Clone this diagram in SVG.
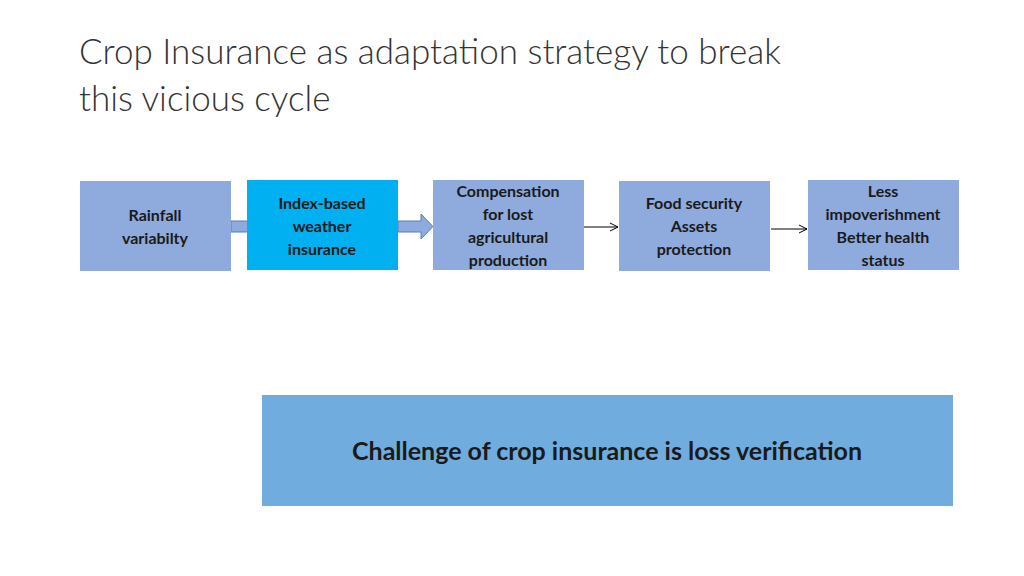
<svg xmlns="http://www.w3.org/2000/svg" width="1024" height="576" viewBox="0 0 1024 576">
<defs>
<style>
.box{fill:#8FAADC}
.lbl{font-family:Lato,"Open Sans",sans-serif;font-weight:bold;font-size:16px;fill:#1a1a1a;text-anchor:middle}
.title{font-family:Lato,"Open Sans",sans-serif;font-weight:300;font-size:35px;fill:#333}
.thin{stroke:#000;stroke-width:1;fill:none}
</style>
<marker id="ah" markerWidth="10" markerHeight="10" refX="9" refY="5" orient="auto" markerUnits="userSpaceOnUse"><path d="M1,1 L9,5 L1,9" fill="none" stroke="#000" stroke-width="1"/></marker>
</defs>
<rect width="1024" height="576" fill="#fff"/>
<text class="title" x="79" y="64">Crop Insurance as adaptation strategy to break</text>
<text class="title" x="79" y="111">this vicious cycle</text>
<g id="connectors">
<rect x="231" y="221" width="17" height="11" fill="#8FAADC" stroke="#5B7BC0" stroke-width="1"/>
<path d="M398,221 L421,221 L421,214 L433,226.5 L421,239 L421,232 L398,232 Z" fill="#8FAADC" stroke="#5B7BC0" stroke-width="1"/>
<line class="thin" x1="584" y1="227" x2="618" y2="227" marker-end="url(#ah)"/>
<line class="thin" x1="771" y1="229" x2="807" y2="229" marker-end="url(#ah)"/>
</g>
<g id="n1"><rect class="box" x="80" y="181" width="151" height="90"/>
<text class="lbl" x="155" y="221">Rainfall</text><text class="lbl" x="155" y="244">variabilty</text></g>
<g id="n2"><rect x="247" y="180" width="151" height="90" fill="#00B0F0"/>
<text class="lbl" x="322" y="209">Index-based</text><text class="lbl" x="322" y="232">weather</text><text class="lbl" x="322" y="255">insurance</text></g>
<g id="n3"><rect class="box" x="433" y="180" width="151" height="90"/>
<text class="lbl" x="508" y="197">Compensation</text><text class="lbl" x="508" y="220">for lost</text><text class="lbl" x="508" y="243">agricultural</text><text class="lbl" x="508" y="266">production</text></g>
<g id="n4"><rect class="box" x="619" y="181" width="151" height="90"/>
<text class="lbl" x="694" y="209">Food security</text><text class="lbl" x="694" y="232">Assets</text><text class="lbl" x="694" y="255">protection</text></g>
<g id="n5"><rect class="box" x="808" y="180" width="151" height="90"/>
<text class="lbl" x="883" y="197">Less</text><text class="lbl" x="883" y="220">impoverishment</text><text class="lbl" x="883" y="243">Better health</text><text class="lbl" x="883" y="266">status</text></g>
<g id="n6"><rect x="262" y="395" width="691" height="111" fill="#70ADDE"/>
<text class="lbl" x="607" y="460" style="font-size:25px">Challenge of crop insurance is loss verification</text></g>
</svg>
